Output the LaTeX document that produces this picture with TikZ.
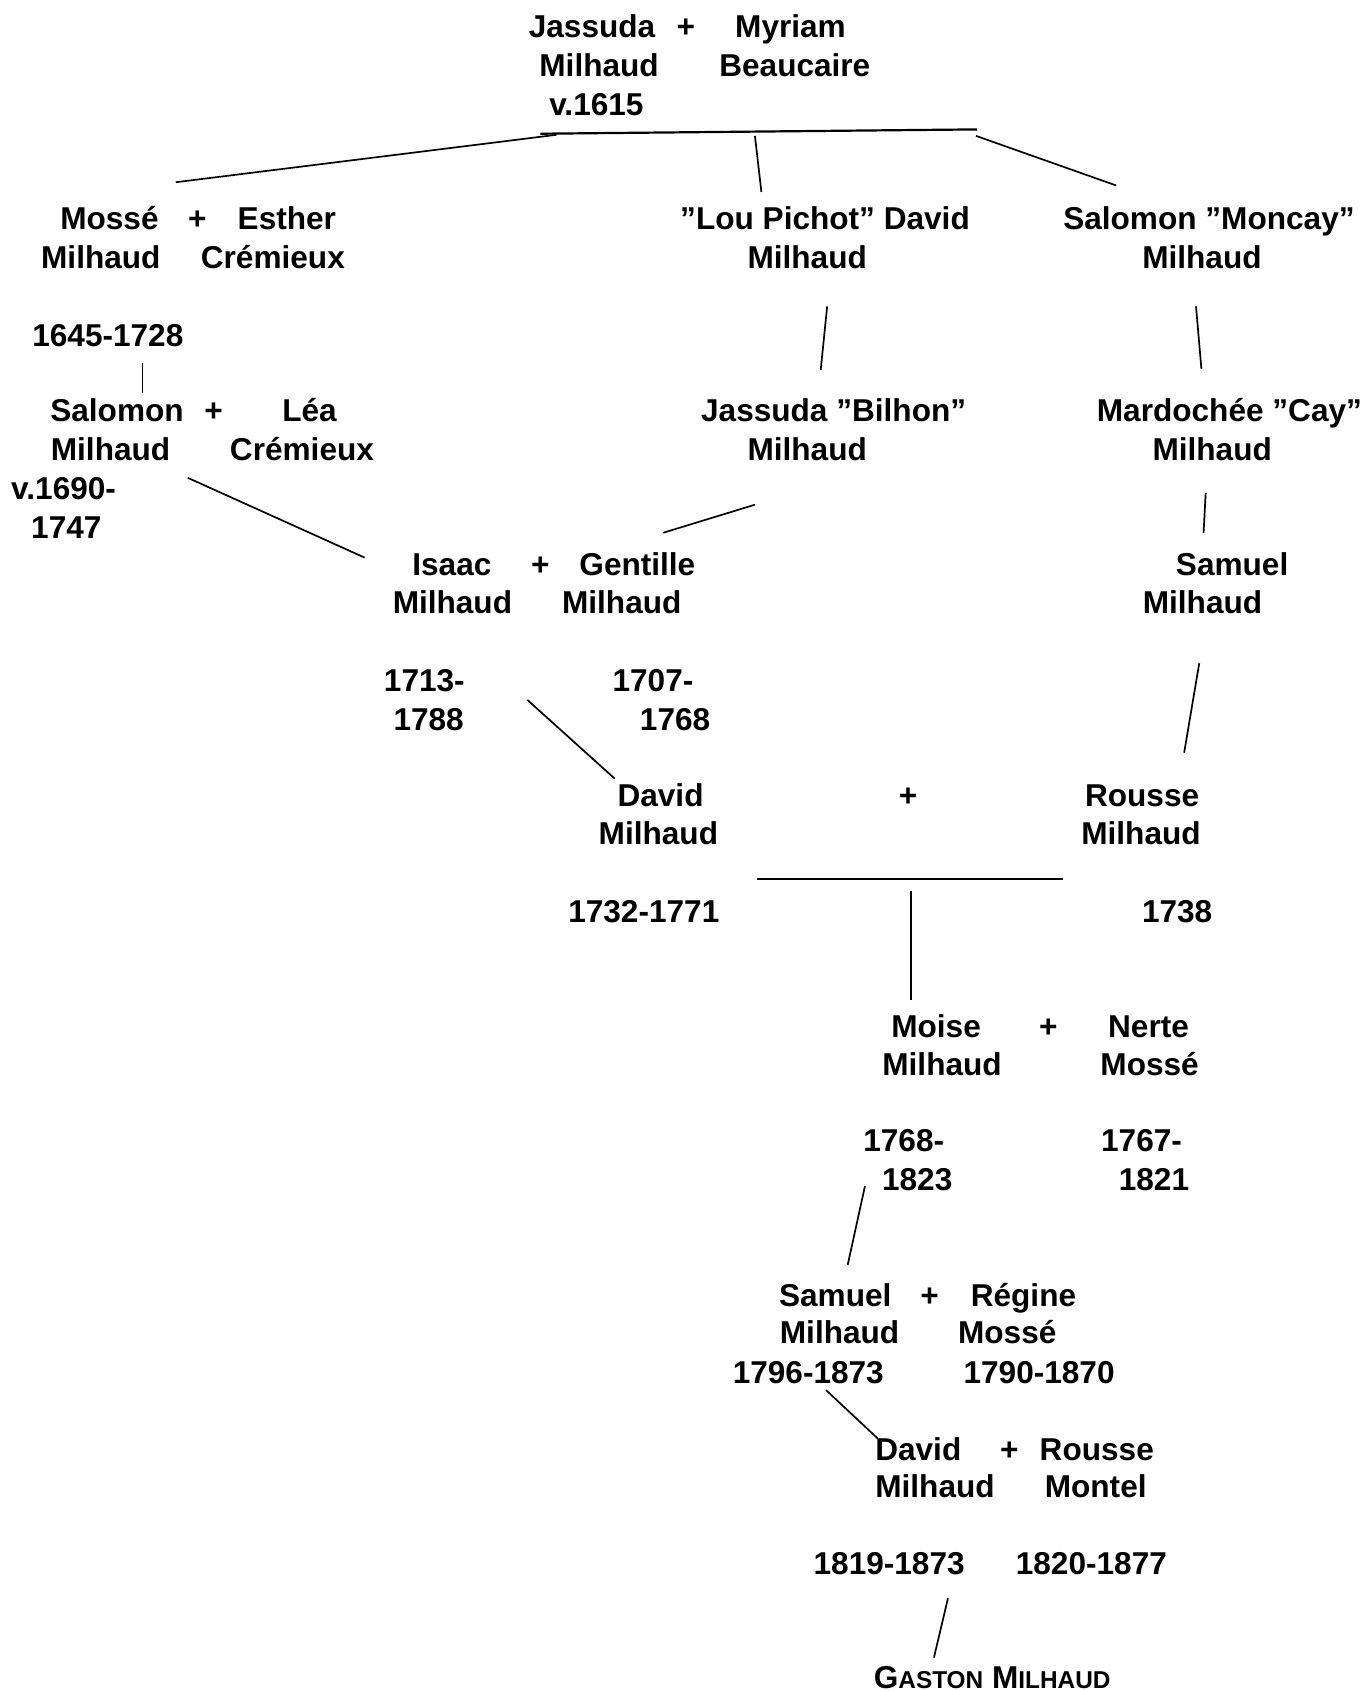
\documentclass[tikz,border=0pt]{standalone}
\usepackage{fontspec}
\setmainfont{Liberation Sans}
\newcommand{\scG}[1]{{\fontsize{12.2}{12.2}\selectfont #1}}
\begin{document}
\begin{tikzpicture}[x=0.53943pt,y=-0.53943pt,
  t/.style={anchor=base,inner sep=0pt,font=\bfseries\fontsize{15.8}{19.4}\selectfont},
  ln/.style={line width=0.85pt,line cap=butt}]
\useasboundingbox (0,0) rectangle (1268,1568);
% Row 1
\node[t] (j1) at (549,35) {Jassuda};
\node[t] (j2) at (636,35) {+};
\node[t] (j3) at (733,35) {Myriam};
\node[t] (j4) at (555.5,71) {Milhaud};
\node[t] (j5) at (737,71) {Beaucaire};
\node[t] (j6) at (553,107) {v.1615};
% Row 2
\node[t] (m1) at (101.5,213) {Mossé};
\node[t] (m2) at (183,213) {+};
\node[t] (m3) at (266,213) {Esther};
\node[t] (m4) at (93.5,249) {Milhaud};
\node[t] (m5) at (253,249) {Crémieux};
\node[t] (p1) at (765,213) {”Lou Pichot” David};
\node[t] (p2) at (748.5,249) {Milhaud};
\node[t] (s1) at (1121,213) {Salomon ”Moncay”};
\node[t] (s2) at (1114.5,249) {Milhaud};
\node[t] (d1) at (100,321) {1645-1728};
% Row 3
\node[t] (a1) at (108.5,391) {Salomon};
\node[t] (a2) at (198,391) {+};
\node[t] (a3) at (287,391) {Léa};
\node[t] (a4) at (102.5,427) {Milhaud};
\node[t] (a5) at (280,427) {Crémieux};
\node[t] (a6) at (59,463) {v.1690-};
\node[t] (a7) at (61.5,499) {1747};
\node[t] (b1) at (773,391) {Jassuda ”Bilhon”};
\node[t] (b2) at (748.5,427) {Milhaud};
\node[t] (c1) at (1140,391) {Mardochée ”Cay”};
\node[t] (c2) at (1124,427) {Milhaud};
% Row 4
\node[t] (i1) at (419,534) {Isaac};
\node[t] (i2) at (501,534) {+};
\node[t] (i3) at (591,534) {Gentille};
\node[t] (i4) at (419.5,569) {Milhaud};
\node[t] (i5) at (576.5,569) {Milhaud};
\node[t] (e1) at (1142.5,534) {Samuel};
\node[t] (e2) at (1115,569) {Milhaud};
\node[t] (i6) at (393.5,641) {1713-};
\node[t] (i7) at (397.5,677) {1788};
\node[t] (i8) at (605.5,641) {1707-};
\node[t] (i9) at (626,677) {1768};
% Row 5
\node[t] (v1) at (612.5,748) {David};
\node[t] (v2) at (842,748) {+};
\node[t] (v3) at (1059,748) {Rousse};
\node[t] (v4) at (610.5,783) {Milhaud};
\node[t] (v5) at (1058,783) {Milhaud};
\node[t] (v6) at (597,855) {1732-1771};
\node[t] (v7) at (1091.5,855) {1738};
% Row 6
\node[t] (o1) at (868,962) {Moise};
\node[t] (o2) at (972,962) {+};
\node[t] (o3) at (1065,962) {Nerte};
\node[t] (o4) at (873.5,997) {Milhaud};
\node[t] (o5) at (1066,997) {Mossé};
\node[t] (o6) at (838,1068) {1768-};
\node[t] (o7) at (850.5,1104) {1823};
\node[t] (o8) at (1058.5,1068) {1767-};
\node[t] (o9) at (1070,1104) {1821};
% Row 7
\node[t] (r1) at (774.5,1211) {Samuel};
\node[t] (r2) at (862,1211) {+};
\node[t] (r3) at (949,1211) {Régine};
\node[t] (r4) at (778.5,1246) {Milhaud};
\node[t] (r5) at (934,1246) {Mossé};
\node[t] (r6) at (749.5,1283) {1796-1873};
\node[t] (r7) at (963.5,1283) {1790-1870};
% Row 8
\node[t] (g1) at (851.5,1354) {David};
\node[t] (g2) at (936,1354) {+};
\node[t] (g3) at (1017,1354) {Rousse};
\node[t] (g4) at (867,1389) {Milhaud};
\node[t] (g5) at (1016,1389) {Montel};
\node[t] (g6) at (824.5,1460) {1819-1873};
\node[t] (g7) at (1012,1460) {1820-1877};
\node[t] (gm) at (920,1566) {G\scG{ASTON} M\scG{ILHAUD}};
% connector end points
\coordinate (tbL) at (501,124);
\coordinate (tbR) at (906,120);
\coordinate (l1a) at (516,125); \coordinate (l1b) at (163,169);
\coordinate (l2a) at (700,126); \coordinate (l2b) at (706,178);
\coordinate (l3a) at (905,126); \coordinate (l3b) at (1035,172);
\coordinate (l4a) at (132,337); \coordinate (l4b) at (132,364);
\coordinate (l5a) at (767,284); \coordinate (l5b) at (761,343);
\coordinate (l6a) at (1109,284); \coordinate (l6b) at (1114,342);
\coordinate (l7a) at (174,443); \coordinate (l7b) at (338,517);
\coordinate (l8a) at (700,468); \coordinate (l8b) at (615,494);
\coordinate (l9a) at (1118,457); \coordinate (l9b) at (1116,494);
\coordinate (l10a) at (1112,615); \coordinate (l10b) at (1098,698);
\coordinate (l11a) at (489,649); \coordinate (l11b) at (570,722);
\coordinate (l12a) at (702,815); \coordinate (l12b) at (986,815);
\coordinate (l13a) at (845,826); \coordinate (l13b) at (845,927);
\coordinate (l14a) at (802,1100); \coordinate (l14b) at (786,1173);
\coordinate (l15a) at (766,1289); \coordinate (l15b) at (814,1334);
\coordinate (l16a) at (879,1482); \coordinate (l16b) at (866,1537);
\draw[ln,line width=1.1pt] (tbL) -- (tbR);
\foreach \k in {1,...,16} \draw[ln] (l\k a) -- (l\k b);
\end{tikzpicture}
\end{document}
